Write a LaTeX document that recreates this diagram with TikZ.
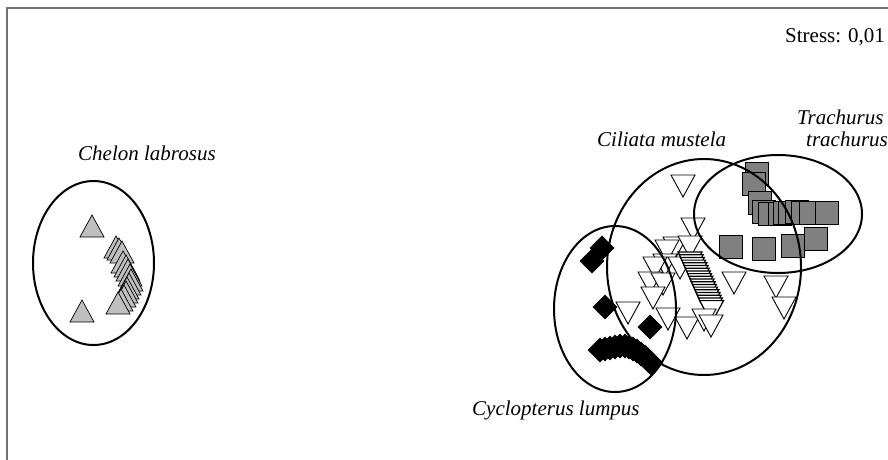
\documentclass[tikz,border=0pt]{standalone}
\usepackage{fontspec}
\setmainfont{Liberation Serif}
\begin{document}
\begin{tikzpicture}[x=1pt,y=-1pt,
  frame/.style={line width=2pt,draw=black!55},
  grp/.style={line width=2pt,draw=black},
  trifill/.style={fill=black!25,draw=black,line width=0.7pt},
  invfill/.style={fill=white,draw=black,line width=0.9pt},
  sqfill/.style={fill=black!50,draw=black,line width=0.8pt},
  dmfill/.style={fill=black,draw=black,line width=0.6pt},
  lab/.style={font=\fontsize{21}{24}\selectfont\itshape,inner sep=0pt,anchor=base west},
  stresslab/.style={font=\fontsize{21}{24}\selectfont,inner sep=0pt,anchor=base west}]
\useasboundingbox (0,0) rectangle (888,459);
\begin{scope}
\clip (0,0) rectangle (888,459);
% frame
\draw[frame] (888,8) -- (7,8) -- (7,460);
% Chelon labrosus triangles
\foreach \x/\y in {92/226,82/311,116/247,119/249,122/252,123/262,126/266,128/270,130/275,131/280,129/284,127/288,126/292,124/296,121/300,118/303}
  {\filldraw[trifill,shift={(\x,\y)}] (-12,11) -- (0,-11) -- (12,11) -- cycle;}
% Ciliata mustela inverted triangles
\foreach \x/\y in {683/186,693/229,675/248,667/251,690/247,665/265,655/268,680/268,650/283,663/284,653/298,628/313,668/319,687/328,734/283,776/287,784/308}
  {\filldraw[invfill,shift={(\x,\y)}] (-12,-11) -- (12,-11) -- (0,11) -- cycle;}
\foreach \i in {0,...,18}
  {\filldraw[invfill,line width=1.2pt,shift={({690+1.2*\i},{263+2.7*\i})}] (-12,-11) -- (12,-11) -- (0,11) -- cycle;}
\foreach \x/\y in {704/320,711/326}
  {\filldraw[invfill,shift={(\x,\y)}] (-12,-11) -- (12,-11) -- (0,11) -- cycle;}
% Cyclopterus lumpus diamonds
\foreach \x/\y in {602/248,592/261,605/307,650/327,600/350,605/349,610/348,615/347,620/346,625/346,629/347,633/349,637/351,641/354,645/357,648/360,651/363}
  {\filldraw[dmfill,shift={(\x,\y)}] (-12,0) -- (0,-12) -- (12,0) -- (0,12) -- cycle;}
% Trachurus trachurus squares
\foreach \x/\y in {757/174,754/184,760/203,764/212,770/214,780/214,785/213,790/213,797/212,803/213,811/213,827/213,731/247,764/249,793/246,816/239}
  {\filldraw[sqfill,shift={(\x,\y)}] (-11.5,-11.5) rectangle (11.5,11.5);}
% group ellipses
\draw[grp] (93.5,263) ellipse [x radius=60.5, y radius=82];
\draw[grp] (615,309) ellipse [x radius=61, y radius=83];
\draw[grp] (704,267) ellipse [x radius=97, y radius=108];
\draw[grp] (778,214) ellipse [x radius=84, y radius=59];
% labels
\node[stresslab] (stress) at (785,42) {Stress: 0,01};
\node[lab] (chelon) at (78,160) {Chelon labrosus};
\node[lab] (ciliata) at (597,146) {Ciliata mustela};
\node[lab] (trach1) at (797,124) {Trachurus};
\node[lab] (trach2) at (806,146) {trachurus};
\node[lab] (cyclo) at (472,415) {Cyclopterus lumpus};
\end{scope}
\end{tikzpicture}
\end{document}
